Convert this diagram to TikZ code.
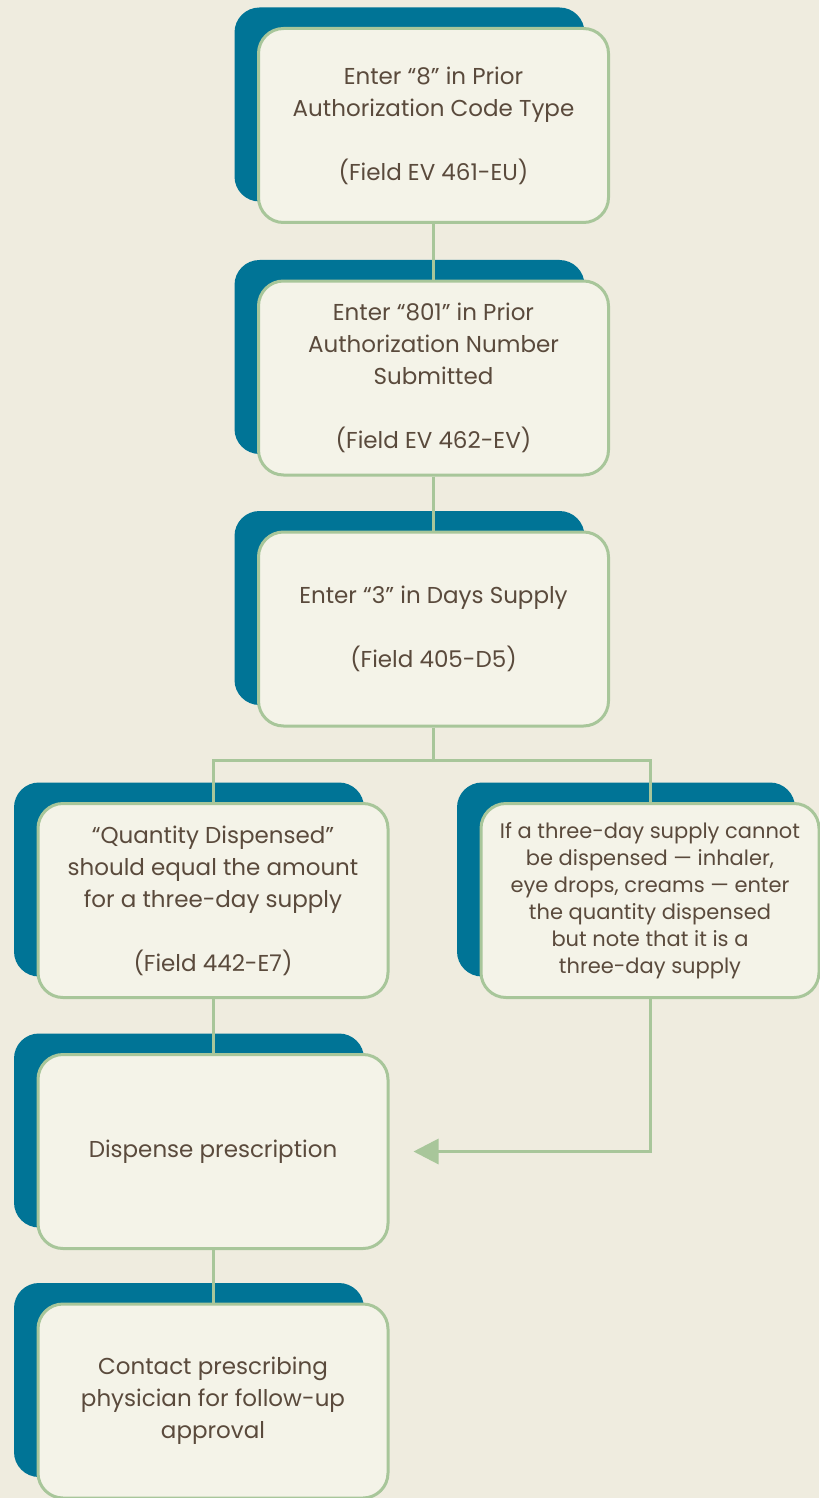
\documentclass[tikz,border=0pt]{standalone}
\usepackage{fontspec}
\setmainfont{Poppins}
\usepackage{xcolor}
\usetikzlibrary{positioning,shadows,arrows.meta}
\definecolor{pagebeige}{RGB}{239,236,223}
\definecolor{backblue}{RGB}{0,116,150}
\definecolor{boxfill}{RGB}{244,243,232}
\definecolor{boxgreen}{RGB}{168,198,154}
\definecolor{textbrown}{RGB}{90,74,60}

\begin{document}
\begin{tikzpicture}[x=0.5pt,y=-0.5pt,
    stepbox/.style={draw=boxgreen, line width=1.5pt, fill=boxfill,
        rounded corners=12.5pt, minimum width=175pt, minimum height=97pt,
        align=center, text=textbrown, font=\fontsize{11.5}{16}\selectfont,
        general shadow={fill=backblue, shadow xshift=-12pt, shadow yshift=10.5pt}},
    notebox/.style={stepbox, minimum width=169pt, font=\fontsize{10.5}{13.5}\selectfont},
    link/.style={draw=boxgreen, line width=1.5pt}]
    % Background
    \fill[pagebeige] (0,0) rectangle (819,1498);
    \useasboundingbox (0,0) rectangle (819,1498);

    % Steps
    \node[stepbox] (codetype) at (433.5,125.5)
        {Enter “8” in Prior\\Authorization Code Type\\[16pt](Field EV 461-EU)};
    \node[stepbox] (authnum) at (433.5,378)
        {Enter “801” in Prior\\Authorization Number\\Submitted\\[16pt](Field EV 462-EV)};
    \node[stepbox] (dayssupply) at (433.5,629)
        {Enter “3” in Days Supply\\[16pt](Field 405-D5)};
    \node[stepbox] (quantity) at (213,900.5)
        {“Quantity Dispensed”\\should equal the amount\\for a three-day supply\\[16pt](Field 442-E7)};
    \node[notebox] (cannot) at (650,900.5)
        {If a three-day supply cannot\\be dispensed — inhaler,\\eye drops, creams — enter\\the quantity dispensed\\but note that it is a\\three-day supply};
    \node[stepbox] (dispense) at (213,1151.5) {Dispense prescription};
    \node[stepbox] (contact) at (213,1401)
        {Contact prescribing\\physician for follow-up\\approval};

    % Connectors
    \draw[link] (codetype) -- (authnum);
    \draw[link] (authnum) -- (dayssupply);
    \coordinate (split) at (433.5,760);
    \draw[link] (dayssupply) -- (split);
    \draw[link] (quantity.north) |- (split) -| (cannot.north);
    \draw[link] (quantity) -- (dispense);
    \draw[link] (dispense) -- (contact);
    \draw[link, -{Triangle[length=12.5pt,width=12.5pt]}, shorten >=12pt]
        (cannot.south) |- (dispense.east);
\end{tikzpicture}
\end{document}
